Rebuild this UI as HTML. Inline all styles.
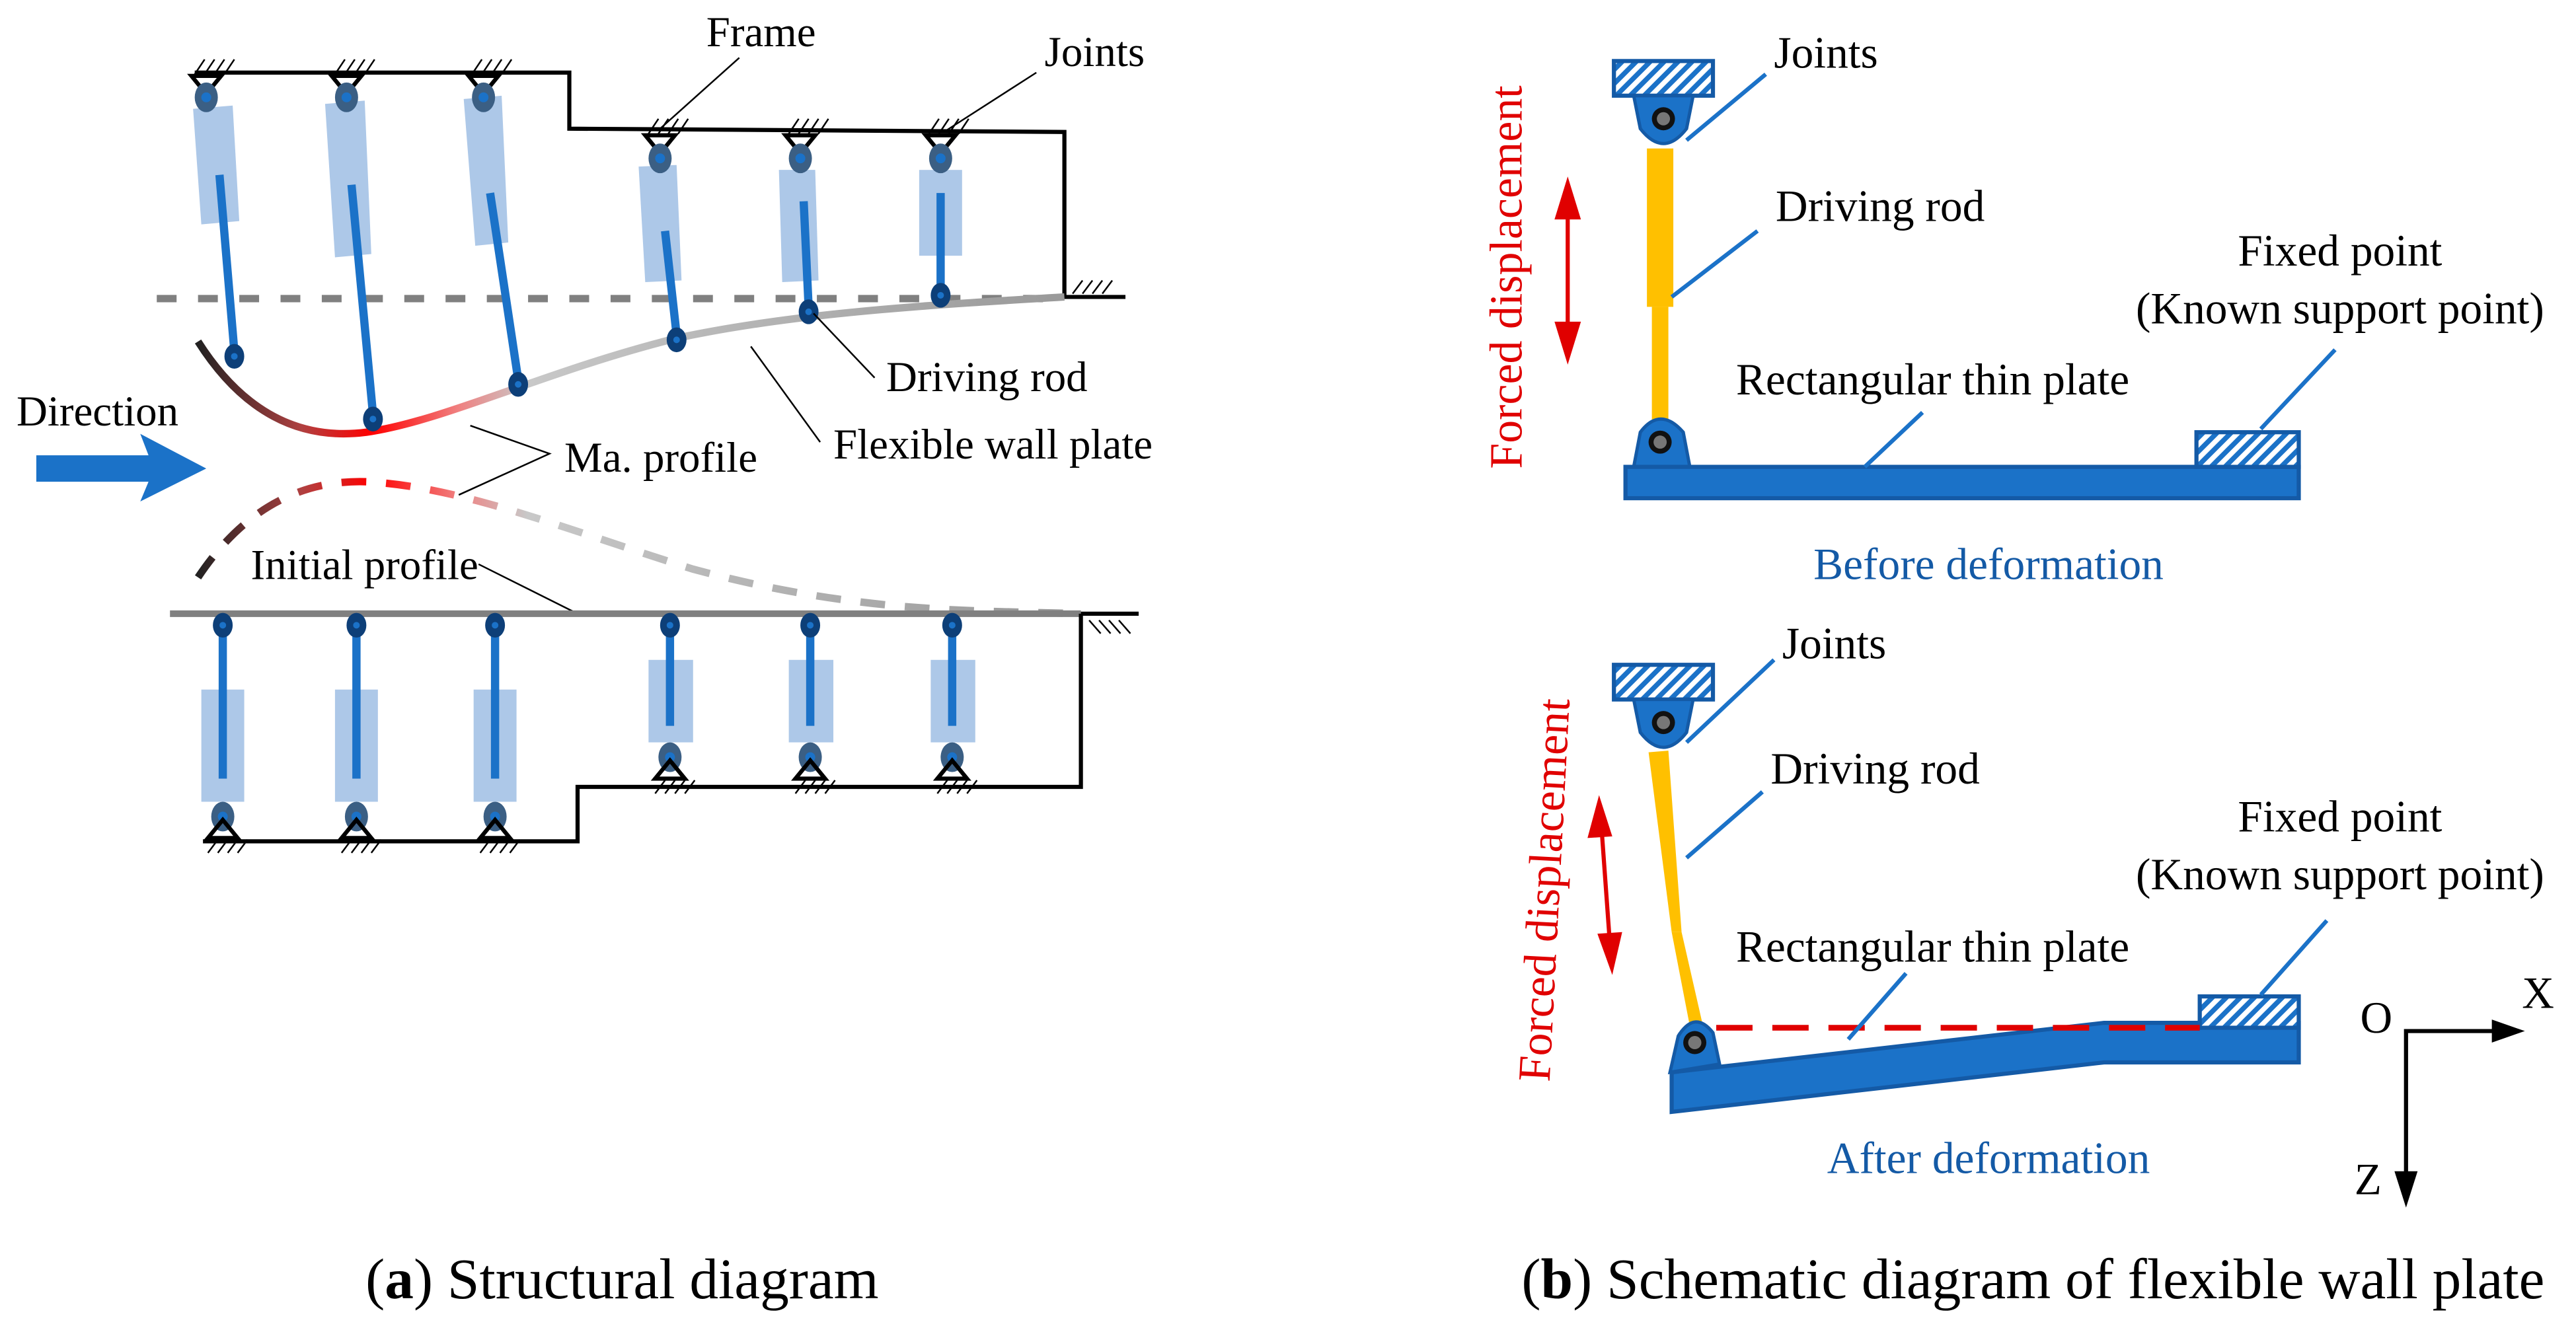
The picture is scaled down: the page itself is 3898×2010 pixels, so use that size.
<!DOCTYPE html>
<html><head><meta charset="utf-8"><style>html,body{margin:0;padding:0;background:#fff}svg{display:block}svg text{font-family:"Liberation Serif","Times New Roman",serif !important}</style></head>
<body>
<svg width="3898" height="2010" viewBox="0 0 1561 805" preserveAspectRatio="none" xmlns="http://www.w3.org/2000/svg" font-family="Liberation Serif, serif">
<defs>
<pattern id="h" width="6" height="6" patternUnits="userSpaceOnUse" patternTransform="rotate(45)"><rect width="6" height="6" fill="#fff"/><rect width="3" height="6" fill="#1b72c8"/></pattern>
<linearGradient id="g1" x1="120" y1="0" x2="645" y2="0" gradientUnits="userSpaceOnUse"><stop offset="0" stop-color="#222"/><stop offset="0.12" stop-color="#b04040"/><stop offset="0.2" stop-color="#f00"/><stop offset="0.3" stop-color="#f08080"/><stop offset="0.38" stop-color="#c8c8c8"/><stop offset="1" stop-color="#999"/></linearGradient>
<g id="sup"><path d="M-9,0 L9,0 L0,11 Z" fill="none" stroke="#000" stroke-width="2.5"/><path d="M-7,-1 l6,-9 M-1,-1 l6,-9 M5,-1 l6,-9 M11,-1 l6,-9" stroke="#000" stroke-width="1"/></g>
<g id="supb"><path d="M-9,0 L9,0 L0,-11 Z" fill="none" stroke="#000" stroke-width="2.5"/><path d="M-9,9 l6,-8 M-3,9 l6,-8 M3,9 l6,-8 M9,9 l6,-8" stroke="#000" stroke-width="1"/></g>
<g id="ball"><ellipse cx="0" cy="0" rx="7" ry="9" fill="#3b5f84"/><circle r="3" fill="#1b72c8"/></g>
<g id="endb"><ellipse cx="0" cy="0" rx="6" ry="7.5" fill="#0d3f78"/><circle r="2" fill="#1b72c8"/></g>
</defs>

<path d="M118,44 L345,44 L345,78 L645,80 L645,180 L682,180" fill="none" stroke="#000" stroke-width="2.5"/>
<path d="M650,178 l6,-8 M656,178 l6,-8 M662,178 l6,-8 M668,178 l6,-8" stroke="#000" stroke-width="1"/>
<use href="#sup" x="125" y="46"/><use href="#sup" x="210" y="46"/><use href="#sup" x="293" y="46"/>
<use href="#sup" x="400" y="82"/><use href="#sup" x="485" y="82"/><use href="#sup" x="570" y="82"/>
<line x1="95" y1="181" x2="645" y2="181" stroke="#808080" stroke-width="4.5" stroke-dasharray="12,13"/>
<g fill="#adc8e8">
<polygon points="117,66 141,64 145,134 122,136"/>
<polygon points="197,63 221,61 225,154 203,156"/>
<polygon points="281,60 304,58 308,147 288,149"/>
<polygon points="387,101 410,100 413,170 391,171"/>
<polygon points="472,103 494,103 496,170 474,171"/>
<rect x="557" y="103" width="26" height="52"/>
</g>
<g stroke="#1b72c8" stroke-width="5">
<line x1="133" y1="106" x2="142" y2="213"/><line x1="213" y1="112" x2="226" y2="251"/><line x1="297" y1="117" x2="314" y2="230"/>
<line x1="403" y1="140" x2="410" y2="203"/><line x1="487" y1="122" x2="490" y2="186"/><line x1="570" y1="117" x2="570" y2="176"/>
</g>
<use href="#ball" x="125" y="59"/><use href="#ball" x="210" y="59"/><use href="#ball" x="293" y="59"/>
<use href="#ball" x="400" y="96"/><use href="#ball" x="485" y="96"/><use href="#ball" x="570" y="96"/>
<path d="M120,207 Q160,270 222,262 C270,255 330,225 410,205 C480,190 560,185 645,180" fill="none" stroke="url(#g1)" stroke-width="4.5"/>
<use href="#endb" x="142" y="216"/><use href="#endb" x="226" y="254"/><use href="#endb" x="314" y="233"/>
<use href="#endb" x="410" y="206"/><use href="#endb" x="490" y="189"/><use href="#endb" x="570" y="179"/>
<g font-size="26" fill="#000" font-family="Liberation Serif, serif">
<text x="428" y="28">Frame</text><text x="633" y="40">Joints</text>
<text x="537" y="237">Driving rod</text><text x="505" y="278">Flexible wall plate</text>
<text x="10" y="258">Direction</text><text x="342" y="286">Ma. profile</text>
<text x="152" y="351">Initial profile</text>
</g>
<g stroke="#000" stroke-width="1" fill="none">
<line x1="448" y1="35" x2="400" y2="78"/><line x1="628" y1="44" x2="572" y2="80"/>
<line x1="530" y1="229" x2="493" y2="190"/><line x1="497" y1="268" x2="455" y2="210"/>
<polyline points="285,258 333,275 278,300"/><line x1="290" y1="342" x2="350" y2="372"/>
</g>
<polygon points="22,276 90,276 85,263 125,284 85,304 90,292 22,292" fill="#1b72c8"/>
<path d="M120,350 Q160,290 222,292 C280,295 340,320 420,345 C520,372 590,370 655,372" fill="none" stroke="url(#g1)" stroke-width="4.5" stroke-dasharray="15,12"/>
<line x1="103" y1="372" x2="655" y2="372" stroke="#808080" stroke-width="4"/>
<path d="M655,372 L690,372 M655,372 L655,477 L350,477 L350,510 L123,510" fill="none" stroke="#000" stroke-width="2.5"/>
<path d="M660,376 l7,8 M666,376 l7,8 M672,376 l7,8 M678,376 l7,8" stroke="#000" stroke-width="1"/>
<g fill="#adc8e8">
<rect x="122" y="418" width="26" height="68"/><rect x="203" y="418" width="26" height="68"/><rect x="287" y="418" width="26" height="68"/>
<rect x="393" y="400" width="27" height="50"/><rect x="478" y="400" width="27" height="50"/><rect x="564" y="400" width="27" height="50"/>
</g>
<g stroke="#1b72c8" stroke-width="5">
<line x1="135" y1="380" x2="135" y2="472"/><line x1="216" y1="380" x2="216" y2="472"/><line x1="300" y1="380" x2="300" y2="472"/>
<line x1="406" y1="380" x2="406" y2="440"/><line x1="491" y1="380" x2="491" y2="440"/><line x1="577" y1="380" x2="577" y2="440"/>
</g>
<use href="#endb" x="135" y="379"/><use href="#endb" x="216" y="379"/><use href="#endb" x="300" y="379"/>
<use href="#endb" x="406" y="379"/><use href="#endb" x="491" y="379"/><use href="#endb" x="577" y="379"/>
<use href="#ball" x="135" y="495"/><use href="#ball" x="216" y="495"/><use href="#ball" x="300" y="495"/>
<use href="#ball" x="406" y="459"/><use href="#ball" x="491" y="459"/><use href="#ball" x="577" y="459"/>
<use href="#supb" x="135" y="508"/><use href="#supb" x="216" y="508"/><use href="#supb" x="300" y="508"/>
<use href="#supb" x="406" y="472"/><use href="#supb" x="491" y="472"/><use href="#supb" x="577" y="472"/>

<rect x="978" y="37" width="60" height="21" fill="url(#h)" stroke="#145aa6" stroke-width="2.5"/>
<path d="M990,58 L1026,58 L1022,78 Q1008,96 994,78 Z" fill="#1b72c8" stroke="#145aa6" stroke-width="2"/>
<circle cx="1008" cy="72" r="7" fill="#111"/><circle cx="1008" cy="72" r="4" fill="#777"/>
<rect x="998" y="90" width="16" height="96" fill="#ffc000"/><rect x="1001" y="186" width="10" height="72" fill="#ffc000"/>
<path d="M990,283 L994,262 Q1006,246 1020,262 L1024,283 Z" fill="#1b72c8" stroke="#145aa6" stroke-width="2"/>
<circle cx="1006" cy="268" r="7" fill="#111"/><circle cx="1006" cy="268" r="4" fill="#777"/>
<rect x="985" y="283" width="408" height="19" fill="#1b72c8" stroke="#145aa6" stroke-width="2.5"/>
<rect x="1331" y="262" width="62" height="21" fill="url(#h)" stroke="#145aa6" stroke-width="2.5"/>
<g fill="#e00000"><line x1="950" y1="120" x2="950" y2="208" stroke="#e00000" stroke-width="2.5"/><polygon points="950,107 942,133 958,133"/><polygon points="950,221 942,195 958,195"/></g>
<text transform="translate(922,168) rotate(-90)" text-anchor="middle" font-size="28" fill="#e00000" font-family="Liberation Serif, serif">Forced displacement</text>
<g stroke="#1b72c8" stroke-width="2.5">
<line x1="1022" y1="85" x2="1070" y2="45"/><line x1="1013" y1="180" x2="1065" y2="140"/>
<line x1="1130" y1="283" x2="1165" y2="250"/><line x1="1370" y1="260" x2="1415" y2="212"/>
</g>
<g font-size="27" fill="#000" font-family="Liberation Serif, serif">
<text x="1075" y="41">Joints</text><text x="1076" y="134">Driving rod</text>
<text x="1418" y="161" text-anchor="middle">Fixed point</text><text x="1418" y="196" text-anchor="middle">(Known support point)</text>
<text x="1052" y="239">Rectangular thin plate</text>
<text x="1080" y="399">Joints</text><text x="1073" y="475">Driving rod</text>
<text x="1418" y="504" text-anchor="middle">Fixed point</text><text x="1418" y="539" text-anchor="middle">(Known support point)</text>
<text x="1052" y="583">Rectangular thin plate</text>
<text x="1440" y="626" text-anchor="middle">O</text><text x="1538" y="611" text-anchor="middle">X</text><text x="1435" y="724" text-anchor="middle">Z</text>
</g>
<g font-size="27" fill="#145aa6" text-anchor="middle" font-family="Liberation Serif, serif"><text x="1205" y="351">Before deformation</text><text x="1205" y="711">After deformation</text></g>

<rect x="978" y="403" width="60" height="21" fill="url(#h)" stroke="#145aa6" stroke-width="2.5"/>
<path d="M990,424 L1026,424 L1022,444 Q1008,462 994,444 Z" fill="#1b72c8" stroke="#145aa6" stroke-width="2"/>
<circle cx="1008" cy="438" r="7" fill="#111"/><circle cx="1008" cy="438" r="4" fill="#777"/>
<polygon points="999,456 1011,455 1019,565 1013,565" fill="#ffc000"/>
<polygon points="1013,565 1019,565 1032,622 1024,622" fill="#ffc000"/>
<polygon points="1013,650 1275,620 1393,620 1393,644 1275,644 1013,674" fill="#1b72c8" stroke="#145aa6" stroke-width="2.5"/>
<path d="M1012,650 L1017,628 Q1027,612 1038,626 L1042,645 Z" fill="#1b72c8" stroke="#145aa6" stroke-width="2"/>
<circle cx="1027" cy="632" r="7" fill="#111"/><circle cx="1027" cy="632" r="4" fill="#777"/>
<rect x="1333" y="604" width="60" height="19" fill="url(#h)" stroke="#145aa6" stroke-width="2.5"/>
<line x1="1040" y1="623" x2="1333" y2="623" stroke="#e00000" stroke-width="3.5" stroke-dasharray="22,12"/>
<g stroke="#1b72c8" stroke-width="2.5">
<line x1="1022" y1="450" x2="1075" y2="400"/><line x1="1022" y1="520" x2="1068" y2="480"/>
<line x1="1120" y1="630" x2="1155" y2="590"/><line x1="1370" y1="603" x2="1410" y2="558"/>
</g>
<g fill="#e00000"><line x1="970" y1="495" x2="976" y2="578" stroke="#e00000" stroke-width="2.5"/><polygon points="969,482 962,508 977,507"/><polygon points="977,591 968,566 983,565"/></g>
<text transform="translate(945,540) rotate(-87)" text-anchor="middle" font-size="28" fill="#e00000" font-family="Liberation Serif, serif">Forced displacement</text>
<path d="M1458,725 L1458,625 L1520,625" fill="none" stroke="#000" stroke-width="2.5"/>
<polygon points="1530,625 1510,618 1510,632" fill="#000"/><polygon points="1458,732 1451,710 1465,710" fill="#000"/>

<text x="377" y="787" text-anchor="middle" font-size="35" fill="#000" font-family="Liberation Serif, serif">(<tspan font-weight="bold">a</tspan>) Structural diagram</text>
<text x="1232" y="787" text-anchor="middle" font-size="35" fill="#000" font-family="Liberation Serif, serif">(<tspan font-weight="bold">b</tspan>) Schematic diagram of flexible wall plate</text>
</svg>
</body></html>
